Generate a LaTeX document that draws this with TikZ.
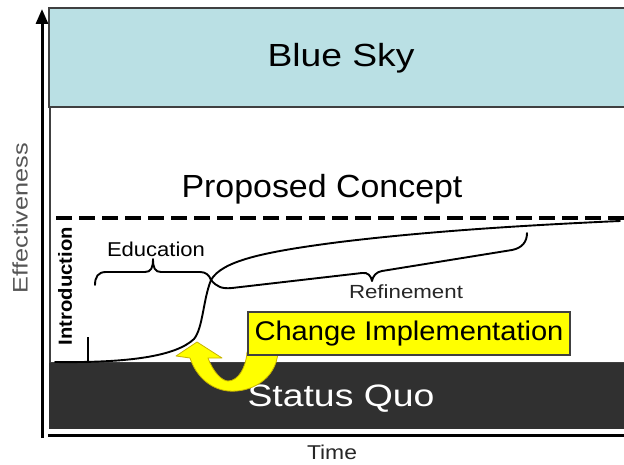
\documentclass[tikz,border=0pt]{standalone}
\usepackage{fontspec}
\setmainfont{Liberation Sans}
\usetikzlibrary{arrows.meta}
\definecolor{sky}{HTML}{BAE0E4}
\definecolor{quo}{HTML}{303030}
\definecolor{hl}{HTML}{FFFF00}
\definecolor{hledge}{HTML}{C8B400}
\definecolor{edge}{HTML}{404040}
\definecolor{axlab}{HTML}{555555}
\newlength\myTW
\newcommand\fitw[2]{\settowidth\myTW{#2}\pgfmathsetmacro\myFS{#1/\the\myTW}\scalebox{\myFS}[1]{#2}}
\tikzset{
  frame/.style={draw=edge, line width=1.2pt},
  axisline/.style={line width=3pt, black},
  curve/.style={line width=1.9pt, black, line join=round, line cap=round},
  lbl/.style={inner sep=0pt, anchor=center},
}
\begin{document}
\begin{tikzpicture}[x=1pt,y=-1pt]
\useasboundingbox (0,0) rectangle (624,465);
% regions
\path[frame, fill=sky] (49,8) rectangle (626,107);
\path[frame, fill=white] (50,107) rectangle (626,363);
\fill[quo] (49,363) rectangle (626,429);
% axes
\draw[axisline, -{Triangle[length=15pt,width=12pt]}] (42,438) -- (42,9);
\draw[axisline] (48,435) -- (626,435);
% titles
\node[lbl, font=\fontsize{32}{32}\selectfont] (sky) at (341,58) {\fitw{147}{Blue Sky}};
\node[lbl, font=\fontsize{32}{32}\selectfont] (prop) at (322,189) {\fitw{281}{Proposed Concept}};
\node[lbl, font=\fontsize{31}{31}\selectfont, text=white] (quo) at (341,399) {\fitw{187}{Status Quo}};
\node[lbl, font=\fontsize{20}{20}\selectfont, text=black!85] (time) at (332,452) {\fitw{50}{Time}};
\node[lbl, font=\fontsize{21}{21}\selectfont, text=axlab, rotate=90] (eff) at (20,218) {\fitw{150}{Effectiveness}};
\node[lbl, font=\fontsize{19}{19}\selectfont\bfseries, rotate=90] (intro) at (65,286) {\fitw{118}{Introduction}};
% dashed target line
\draw[line width=4.5pt, dash pattern=on 16pt off 7pt] (56,218) -- (626,218);
% introduction tick
\draw[line width=2.5pt] (88,337) -- (88,362);
% main curve
\coordinate (c0) at (55,362);
\coordinate (cj) at (211,280);
\coordinate (c1) at (620,221);
\draw[curve] (c0) .. controls (130,363) and (176,356) .. (194,339)
  .. controls (203,328) and (203,300) .. (cj)
  .. controls (222,261) and (262,252) .. (340,242)
  .. controls (430,231) and (530,225) .. (c1);
% education brace
\draw[curve] (95,285) .. controls (95,277) and (98,272) .. (106,272) -- (145,272)
  .. controls (151,272) and (153,268) .. (153,259)
  .. controls (153,268) and (155,272) .. (161,272) -- (200,272)
  .. controls (206,272) and (209,275) .. (cj);
\node[lbl, font=\fontsize{20}{20}\selectfont] (edu) at (156,249) {\fitw{98}{Education}};
% refinement brace
\draw[curve] (cj) .. controls (217,287) and (222,289) .. (232,288) -- (362,273)
  .. controls (368,272) and (371,276) .. (372,281)
  .. controls (373,276) and (376,272) .. (382,271) -- (512,250)
  .. controls (522,248) and (527,242) .. (527,233);
\node[lbl, font=\fontsize{19}{19}\selectfont, text=black!85] (ref) at (406,292) {\fitw{114}{Refinement}};
% yellow curved arrow
\filldraw[fill=hl, draw=hledge, line width=0.8pt, line join=round]
  (278,352) .. controls (276,380) and (250,393) .. (228,391)
  .. controls (210,389) and (196,376) .. (190,358)
  -- (176,356) -- (197,342) -- (222,358) -- (208,358)
  .. controls (213,372) and (222,381) .. (228,381)
  .. controls (238,381) and (246,368) .. (247,352) -- cycle;
% change implementation box
\node[draw=edge, line width=1.5pt, fill=hl, minimum width=322pt, minimum height=43pt, inner sep=0pt,
      font=\fontsize{27}{27}\selectfont] (chg) at (409,333.5) {\fitw{309}{Change Implementation}};
\end{tikzpicture}
\end{document}
